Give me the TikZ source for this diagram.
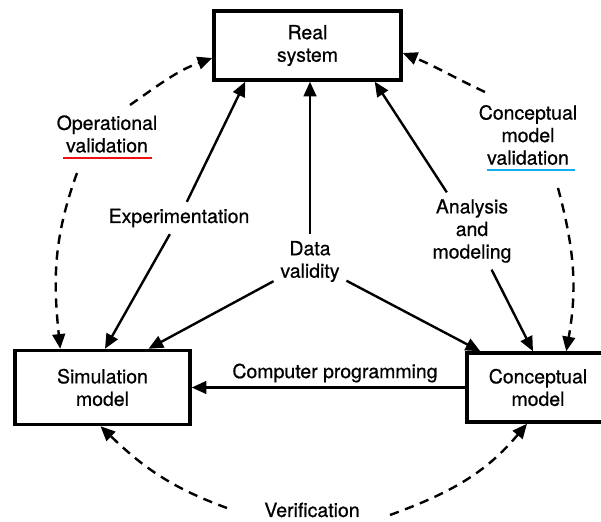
\documentclass[tikz,border=0pt]{standalone}
\usepackage{fontspec}
\setmainfont[FakeBold=0.6]{TeX Gyre Heros}
\usetikzlibrary{arrows.meta,calc}
\definecolor{ulred}{HTML}{F01010}
\definecolor{ulblue}{HTML}{10B0F0}
\begin{document}
\begin{tikzpicture}[x=0.75pt,y=0.75pt,
  font=\fontsize{14.6pt}{16.9pt}\selectfont,
  box/.style={draw,line width=2.6pt,align=center,inner sep=0pt},
  lbl/.style={align=center,inner sep=5pt},
  arr/.style={line width=1.8pt,-{Triangle[length=11pt,width=9.5pt]}},
  darr/.style={line width=1.8pt,dash pattern=on 7pt off 5pt,-{Triangle[length=11pt,width=9.5pt]}},
  uline/.style={line width=1.4pt}]
\useasboundingbox (0,0) rectangle (601,522);
% boxes
\node[box,minimum width=140.25pt,minimum height=51.75pt] (real) at (307.5,476.5) {Real\\system};
\node[box,minimum width=131.25pt,minimum height=55.5pt] (sim) at (102.5,134.5) {Simulation\\model};
\node[box,minimum width=106.5pt,minimum height=51.75pt] (conc) at (538,134.5) {Conceptual\\model};
% labels
\node[lbl] (exp) at (179,304) {Experimentation};
\node[lbl] (data) at (310,260.5) {Data\\validity};
\node[lbl] (ana) at (472,291) {Analysis\\and\\modeling};
\node[lbl] (opv) at (107,388) {Operational\\validation};
\node[lbl] (cmv) at (528,387) {Conceptual\\model\\validation};
\node[lbl,inner sep=0pt] (cp) at (335,149) {Computer programming};
\node[lbl,inner sep=0pt] (ver) at (312,12) {Verification};
% underlines
\draw[uline,ulred] ($(opv)+(-44,-24)$) -- ($(opv)+(45,-24)$);
\draw[uline,ulblue] ($(cmv)+(-41,-35)$) -- ($(cmv)+(47,-35)$);
% solid arrows
\draw[arr] (exp) -- ($(real.south west)+(33,0)$);
\draw[arr] (exp) -- ($(sim.north)+(2.5,0)$);
\draw[arr] (data) -- (data |- real.south);
\draw[arr] (data) -- ($(sim.north)+(46,0)$);
\draw[arr] (data) -- ($(conc.north west)+(15,0)$);
\draw[arr] (ana) -- ($(real.south east)+(-28,0)$);
\draw[arr] (ana) -- ($(conc.north)+(-5,0)$);
\draw[arr] (conc.west) -- (sim.east);
% dashed arrows
\draw[darr] ($(opv)+(23,29)$) to[out=35,in=200] ($(real.west)+(0,-12.5)$);
\draw[darr] ($(opv)+(-30,-39)$) to[out=-110,in=96] ($(sim.north west)+(47,0)$);
\draw[darr] ($(cmv)+(-43,43)$) to[out=155,in=-22] ($(real.east)+(0,-7.5)$);
\draw[darr] ($(cmv)+(30,-53)$) to[out=-75,in=80] ($(conc.north west)+(101,0)$);
\draw[darr] ($(ver)+(-85,2)$) to[out=160,in=-44] ($(sim.south)+(-2,0)$);
\draw[darr] ($(ver)+(78,-5)$) to[out=20,in=230] ($(conc.south)+(-11,0)$);
\end{tikzpicture}
\end{document}
